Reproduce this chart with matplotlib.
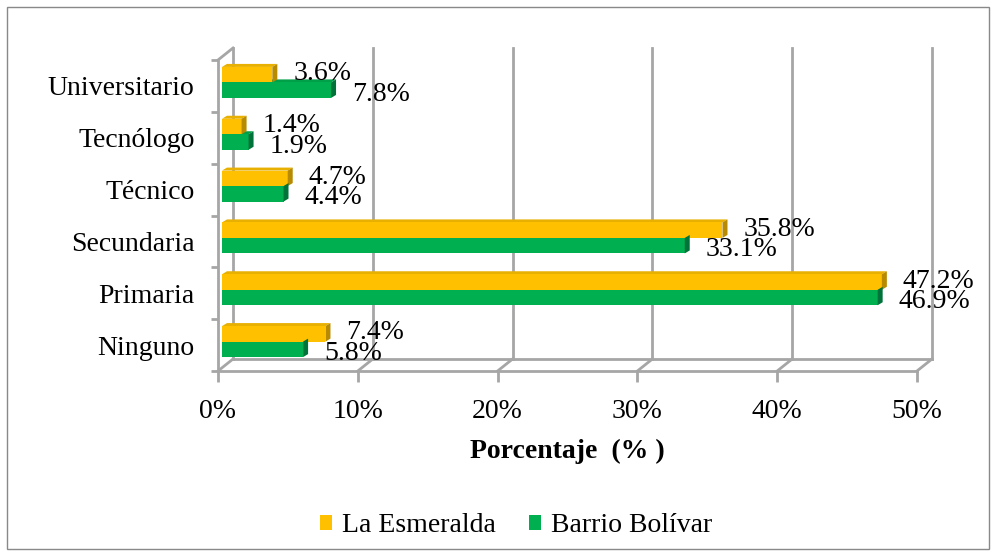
import matplotlib
matplotlib.use('Agg')
import matplotlib.pyplot as plt
from matplotlib.patches import Polygon, Rectangle
import numpy as np

# Data
categorias = ['Ninguno', 'Primaria', 'Secundaria', 'Técnico', 'Tecnólogo', 'Universitario']
esmeralda = [7.4, 47.2, 35.8, 4.7, 1.4, 3.6]
bolivar = [5.8, 46.9, 33.1, 4.4, 1.9, 7.8]
serie_nombres = ['La Esmeralda', 'Barrio Bolívar']
xticks = [0, 10, 20, 30, 40, 50]

# Style
ORANGE = '#FFC000'
ORANGE_D = '#B88A00'
ORANGE_T = '#E8B000'
GREEN = '#00B050'
GREEN_D = '#00733A'
GREEN_T = '#00A048'
GRID = '#A6A6A6'
FS = 20
plt.rcParams['font.family'] = ['Liberation Serif', 'DejaVu Serif']

fig = plt.figure(figsize=(9.94, 5.56), dpi=100, facecolor='w')
W, H = 994, 556
ax = fig.add_axes([218/W, (H-371)/H, (917-218)/W, (371-60)/H])
ax.set_xlim(0, 50)
ax.set_ylim(-0.5, 5.5)
ax.patch.set_visible(False)

# pixel -> data conversions
px_x = 50/699.0
px_y = 6/311.0
dx = 15*px_x
dy = 12*px_y

# back wall / floor
kw = dict(color=GRID, lw=2, clip_on=False, zorder=1)
for v in xticks:
    ax.plot([v+dx, v+dx], [-0.5+dy, 5.5+dy], **kw)
    ax.plot([v, v+dx], [-0.5, -0.5+dy], **kw)
ax.plot([dx, 50+dx], [-0.5+dy, -0.5+dy], **kw)
ax.plot([0, dx], [5.5, 5.5+dy], **kw)

# bars with small 3D faces
h = 15.5*px_y
sx = 4*px_x
sy = 3.5*px_y
ddx = 5*px_x
ddy = 3*px_y
y = np.arange(len(categorias))


def bar3d(x0, x1, yb, face, side, top):
    ax.add_patch(Rectangle((x0, yb), x1-x0, h, facecolor=face, edgecolor='none', zorder=3, clip_on=False))
    ax.add_patch(Polygon([(x1, yb), (x1+ddx, yb+ddy), (x1+ddx, yb+h+ddy), (x1, yb+h)],
                         facecolor=side, edgecolor='none', zorder=3, clip_on=False))
    ax.add_patch(Polygon([(x0, yb+h), (x0+ddx, yb+h+ddy), (x1+ddx, yb+h+ddy), (x1, yb+h)],
                         facecolor=top, edgecolor='none', zorder=2, clip_on=False))


for i in range(len(categorias)):
    yo = y[i] + sy
    bar3d(sx, esmeralda[i]+sx, yo, ORANGE, ORANGE_D, ORANGE_T)
    bar3d(sx, bolivar[i]+sx, yo-h, GREEN, GREEN_D, GREEN_T)
    ax.text(esmeralda[i]+25*px_x, yo+h/2+1*px_y, '{:.1f}%'.format(esmeralda[i]),
            ha='left', va='center', fontsize=FS, zorder=5)
    ax.text(bolivar[i]+25*px_x, yo-h/2-4*px_y, '{:.1f}%'.format(bolivar[i]),
            ha='left', va='center', fontsize=FS, zorder=5)

# axes
for s in ['top', 'right']:
    ax.spines[s].set_visible(False)
for s in ['left', 'bottom']:
    ax.spines[s].set_color(GRID)
    ax.spines[s].set_linewidth(2)
ax.set_xticks(xticks)
ax.set_xticklabels(['{}%'.format(v) for v in xticks], fontsize=FS)
ax.tick_params(axis='x', length=8, width=2, color=GRID, pad=12)
ax.set_yticks(y)
ax.set_yticklabels(categorias, fontsize=FS)
ax.tick_params(axis='y', which='major', length=0, pad=17)
ax.set_yticks(np.arange(-0.5, 6.0, 1.0), minor=True)
ax.tick_params(axis='y', which='minor', length=5, width=2, color=GRID)
ax.set_xlabel('Porcentaje  (% )', fontsize=FS, fontweight='bold', labelpad=11)

# legend
handles = [Rectangle((0, 0), 1, 1, facecolor=ORANGE, edgecolor='none'),
           Rectangle((0, 0), 1, 1, facecolor=GREEN, edgecolor='none')]
fig.legend(handles, serie_nombres, loc='center', bbox_to_anchor=(516/W, 1-526/H), ncol=2,
           frameon=False, fontsize=FS, handlelength=0.45, handleheight=0.45,
           handletextpad=0.35, columnspacing=1.2)

# chart border
fig.patches.append(Rectangle((7/W, 7/H), 982/W, 542/H, transform=fig.transFigure,
                             facecolor='none', edgecolor='#898989', lw=1))

fig.savefig('out.png', dpi=100, facecolor='w')
